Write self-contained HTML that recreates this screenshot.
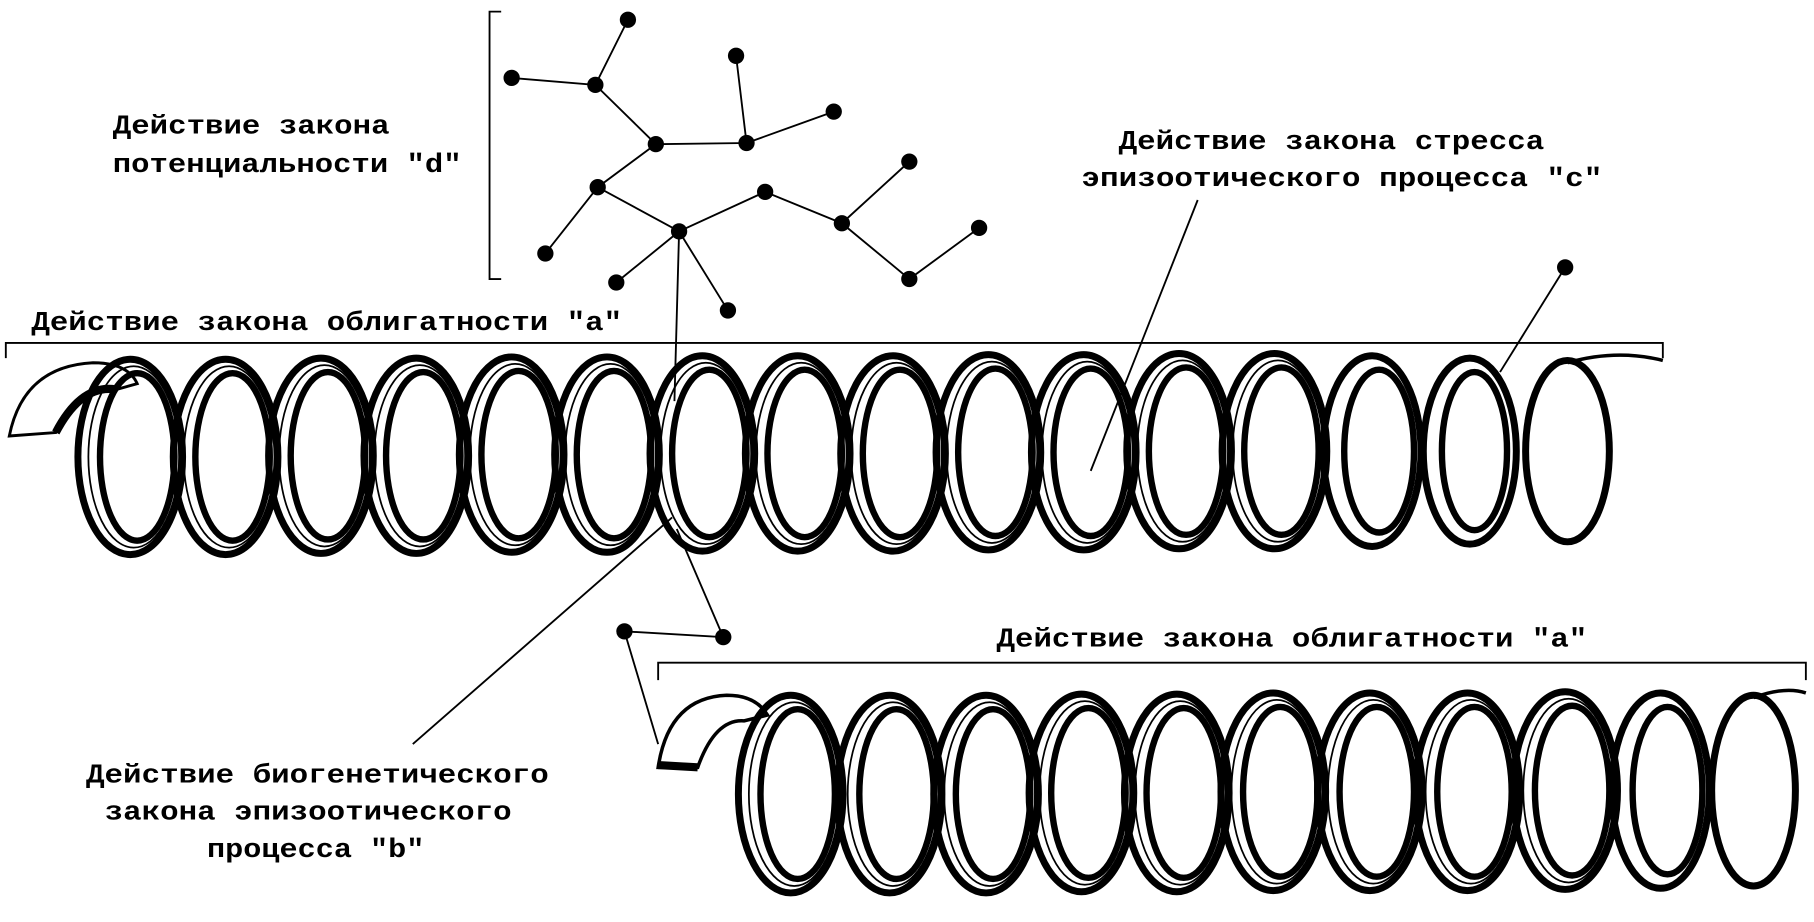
<!DOCTYPE html>
<html><head><meta charset="utf-8"><style>
html,body{margin:0;padding:0;background:#fff}
svg{display:block}
text{font-family:"Liberation Mono",monospace;font-weight:bold;font-size:23px;fill:#000}
</style></head><body>
<svg width="1814" height="922" viewBox="0 0 1560 793" preserveAspectRatio="none" xmlns="http://www.w3.org/2000/svg">
<rect width="1560" height="793" fill="#fff"/>
<g stroke="#000" stroke-width="1.6" fill="none">
<path d="M431 10 H421 V240 H431"/>
<path d="M5 308 V295 H1430 V308"/>
<path d="M566 585 V570 H1553 V585"/>
<path d="M540 17 L512 73 L440 67 M512 73 L564 124 L642 123 L633 48 M642 123 L717 96 M564 124 L514 161 L469 218 M514 161 L584 199 L658 165 L724 192 L782 139 M724 192 L782 240 L842 196 M584 199 L530 243 M584 199 L626 267 M584 199 L580 345"/>
<path d="M1030 172 L938 405"/>
<path d="M1346 230 L1290 320"/>
<path d="M355 640 L578 445"/>
<path d="M582 455 L622 548 L537 543 L566 640"/>
</g>
<g fill="#000">
<circle cx="540" cy="17" r="7"/><circle cx="440" cy="67" r="7"/><circle cx="512" cy="73" r="7"/><circle cx="633" cy="48" r="7"/><circle cx="717" cy="96" r="7"/><circle cx="564" cy="124" r="7"/><circle cx="642" cy="123" r="7"/><circle cx="514" cy="161" r="7"/><circle cx="658" cy="165" r="7"/><circle cx="782" cy="139" r="7"/><circle cx="584" cy="199" r="7"/><circle cx="724" cy="192" r="7"/><circle cx="842" cy="196" r="7"/><circle cx="469" cy="218" r="7"/><circle cx="530" cy="243" r="7"/><circle cx="626" cy="267" r="7"/><circle cx="782" cy="240" r="7"/><circle cx="1346" cy="230" r="7"/><circle cx="622" cy="548" r="7"/><circle cx="537" cy="543" r="7"/>
</g>
<!-- top spring -->
<g fill="none" stroke="#000">
<path d="M8 375 Q20 315 80 312 Q110 312 118 330 L100 335 Q70 330 48 372 Z" stroke-width="2.5" fill="#fff"/>
<path d="M100 335 Q70 330 48 372" stroke-width="7"/>
<g stroke-width="6">
<ellipse cx="112" cy="393" rx="45" ry="84"/><ellipse cx="194" cy="393" rx="45" ry="84"/><ellipse cx="276" cy="392" rx="45" ry="84"/><ellipse cx="358" cy="392" rx="45" ry="84"/><ellipse cx="440" cy="391" rx="45" ry="84"/><ellipse cx="522" cy="391" rx="45" ry="84"/><ellipse cx="604" cy="390" rx="45" ry="84"/><ellipse cx="686" cy="390" rx="45" ry="84"/><ellipse cx="768" cy="390" rx="45" ry="84"/><ellipse cx="850" cy="389" rx="45" ry="84"/><ellipse cx="932" cy="389" rx="45" ry="84"/><ellipse cx="1014" cy="388" rx="45" ry="84"/><ellipse cx="1096" cy="388" rx="45" ry="84"/><ellipse cx="1180" cy="388" rx="42" ry="82"/><ellipse cx="1264" cy="388" rx="40" ry="80"/><ellipse cx="1348" cy="388" rx="36" ry="78"/>
</g>
<g stroke-width="1.5">
<ellipse cx="115" cy="393" rx="39" ry="78"/><ellipse cx="197" cy="393" rx="39" ry="78"/><ellipse cx="279" cy="392" rx="39" ry="78"/><ellipse cx="361" cy="392" rx="39" ry="78"/><ellipse cx="443" cy="391" rx="39" ry="78"/><ellipse cx="525" cy="391" rx="39" ry="78"/><ellipse cx="607" cy="390" rx="39" ry="78"/><ellipse cx="689" cy="390" rx="39" ry="78"/><ellipse cx="771" cy="390" rx="39" ry="78"/><ellipse cx="853" cy="389" rx="39" ry="78"/><ellipse cx="935" cy="389" rx="39" ry="78"/><ellipse cx="1017" cy="388" rx="39" ry="78"/><ellipse cx="1099" cy="388" rx="39" ry="78"/>
</g>
<g stroke-width="5.5">
<ellipse cx="118" cy="393" rx="32" ry="72"/><ellipse cx="200" cy="393" rx="32" ry="72"/><ellipse cx="282" cy="392" rx="32" ry="72"/><ellipse cx="364" cy="392" rx="32" ry="72"/><ellipse cx="446" cy="391" rx="32" ry="72"/><ellipse cx="528" cy="391" rx="32" ry="72"/><ellipse cx="610" cy="390" rx="32" ry="72"/><ellipse cx="692" cy="390" rx="32" ry="72"/><ellipse cx="774" cy="390" rx="32" ry="72"/><ellipse cx="856" cy="389" rx="32" ry="72"/><ellipse cx="938" cy="389" rx="32" ry="72"/><ellipse cx="1020" cy="388" rx="32" ry="72"/><ellipse cx="1102" cy="388" rx="32" ry="72"/><ellipse cx="1186" cy="388" rx="30" ry="70"/><ellipse cx="1268" cy="388" rx="28" ry="68"/>
</g>
<path d="M1348 312 Q1390 300 1430 310" stroke-width="3"/>
</g>
<!-- bottom spring -->
<g fill="none" stroke="#000">
<path d="M566 660 Q575 600 625 598 Q650 598 660 615 L640 620 Q615 618 600 660 Z" stroke-width="3" fill="#fff"/>
<path d="M566 658 L600 660" stroke-width="7"/>
<g stroke-width="6">
<ellipse cx="680" cy="683" rx="45" ry="85"/><ellipse cx="765" cy="683" rx="45" ry="85"/><ellipse cx="848" cy="683" rx="45" ry="85"/><ellipse cx="930" cy="682" rx="45" ry="85"/><ellipse cx="1012" cy="682" rx="45" ry="85"/><ellipse cx="1095" cy="681" rx="45" ry="85"/><ellipse cx="1178" cy="681" rx="45" ry="85"/><ellipse cx="1262" cy="681" rx="45" ry="85"/><ellipse cx="1346" cy="680" rx="45" ry="85"/><ellipse cx="1428" cy="680" rx="42" ry="84"/><ellipse cx="1508" cy="680" rx="36" ry="82"/>
</g>
<g stroke-width="1.5">
<ellipse cx="683" cy="683" rx="39" ry="79"/><ellipse cx="768" cy="683" rx="39" ry="79"/><ellipse cx="851" cy="683" rx="39" ry="79"/><ellipse cx="933" cy="682" rx="39" ry="79"/><ellipse cx="1015" cy="682" rx="39" ry="79"/><ellipse cx="1098" cy="681" rx="39" ry="79"/><ellipse cx="1181" cy="681" rx="39" ry="79"/><ellipse cx="1265" cy="681" rx="39" ry="79"/><ellipse cx="1349" cy="680" rx="39" ry="79"/>
</g>
<g stroke-width="5.5">
<ellipse cx="686" cy="683" rx="32" ry="73"/><ellipse cx="771" cy="683" rx="32" ry="73"/><ellipse cx="854" cy="683" rx="32" ry="73"/><ellipse cx="936" cy="682" rx="32" ry="73"/><ellipse cx="1018" cy="682" rx="32" ry="73"/><ellipse cx="1101" cy="681" rx="32" ry="73"/><ellipse cx="1184" cy="681" rx="32" ry="73"/><ellipse cx="1268" cy="681" rx="32" ry="73"/><ellipse cx="1352" cy="680" rx="32" ry="73"/><ellipse cx="1434" cy="680" rx="30" ry="72"/>
</g>
<path d="M1508 600 Q1535 590 1553 596" stroke-width="3"/>
</g>
<text x="97" y="115" textLength="238" lengthAdjust="spacingAndGlyphs">Действие закона</text>
<text x="97" y="148" textLength="300" lengthAdjust="spacingAndGlyphs">потенциальности "d"</text>
<text x="27" y="284" textLength="508" lengthAdjust="spacingAndGlyphs">Действие закона облигатности "a"</text>
<text x="962" y="128" textLength="366" lengthAdjust="spacingAndGlyphs">Действие закона стресса</text>
<text x="930" y="160" textLength="448" lengthAdjust="spacingAndGlyphs">эпизоотического процесса "c"</text>
<text x="857" y="556" textLength="508" lengthAdjust="spacingAndGlyphs">Действие закона облигатности "a"</text>
<text x="74" y="673" textLength="398" lengthAdjust="spacingAndGlyphs">Действие биогенетического</text>
<text x="90" y="705" textLength="350" lengthAdjust="spacingAndGlyphs">закона эпизоотического</text>
<text x="178" y="737" textLength="187" lengthAdjust="spacingAndGlyphs">процесса "b"</text>
</svg>
</body></html>
